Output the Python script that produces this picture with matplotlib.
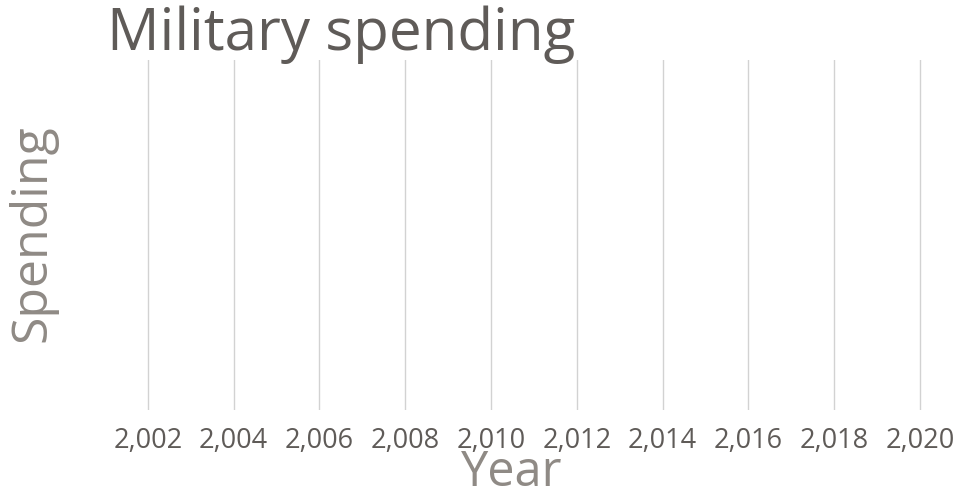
import matplotlib.pyplot as plt
from matplotlib.ticker import FuncFormatter

# data (the chart shows no series, only the empty year axis)
years = []
spending = []
tick_years = [2002, 2004, 2006, 2008, 2010, 2012, 2014, 2016, 2018, 2020]
x_range = (2001, 2020.1)

# colors
title_color = '#5f5b58'
label_color = '#8f8a85'
tick_color = '#5f5b58'
grid_color = '#d2d2d2'

plt.rcParams['font.family'] = ['Open Sans', 'DejaVu Sans']

W, H = 960, 500
fig = plt.figure(figsize=(W / 100, H / 100), dpi=100)
fig.patch.set_facecolor('white')

# axes box in pixels: left 105, right ~924, top 60, bottom 410
px_per_year = (920 - 105) / 19
right_px = 105 + px_per_year * (x_range[1] - x_range[0])
ax = fig.add_axes([105 / W, (H - 410) / H, (right_px - 105) / W, (410 - 60) / H])
ax.set_facecolor('white')

ax.plot(years, spending, color='#4e79a7')
ax.set_xlim(*x_range)
ax.set_ylim(0, 1)

ax.set_xticks(tick_years)
ax.xaxis.set_major_formatter(FuncFormatter(lambda v, p: f'{int(v):,}'))
ax.set_yticks([])
ax.tick_params(axis='x', length=0, pad=12, labelsize=19.5, colors=tick_color)
ax.grid(True, axis='x', color=grid_color, linewidth=1)

for spine in ax.spines.values():
    spine.set_visible(False)

fig.text(107 / W, 1 - 50 / H, 'Military spending', fontsize=42, color=title_color,
         ha='left', va='baseline')
# the reference's "Year" sits tight under the tick labels
fig.text(512 / W, 1 - 473 / H, 'Year', fontsize=35, color=label_color,
         ha='center', va='center')
fig.text(32 / W, 1 - 233 / H, 'Spending', fontsize=36, color=label_color,
         ha='center', va='center', rotation=90)

fig.savefig('out.png', dpi=100, facecolor=fig.get_facecolor())
